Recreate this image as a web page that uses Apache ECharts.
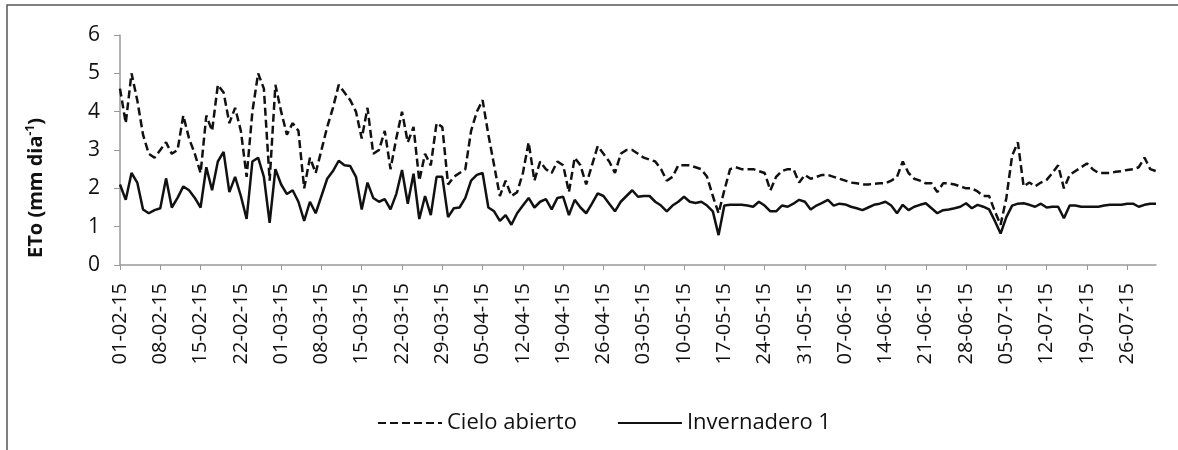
<!DOCTYPE html>
<html>
<head>
<meta charset="utf-8">
<script src="https://cdn.jsdelivr.net/npm/echarts@6/dist/echarts.min.js"></script>
<style>
  html, body { margin: 0; padding: 0; background: #fff; }
  #chart { width: 1178px; height: 450px; }
</style>
</head>
<body>
<div id="chart"></div>
<script>
// fechas diarias 01-02-15 .. 31-07-15
const startDay = new Date(2015, 1, 1)
const nDays = 181
const fechas = []
for (let i = 0; i < nDays; i++) {
  const d = new Date(startDay.getFullYear(), startDay.getMonth(), startDay.getDate() + i)
  const dd = String(d.getDate()).padStart(2, '0')
  const mm = String(d.getMonth() + 1).padStart(2, '0')
  fechas.push(dd + '-' + mm + '-15')
}

const yTicks = [0, 1, 2, 3, 4, 5, 6]

// ETo cielo abierto (mm dia-1)
const cieloAbierto = [
  4.6, 3.7, 5.0, 4.3, 3.4, 2.9, 2.8, 3.0, 3.2, 2.9,
  3.0, 3.9, 3.3, 2.9, 2.4, 3.9, 3.5, 4.7, 4.5, 3.7,
  4.1, 3.5, 2.3, 4.0, 5.0, 4.6, 2.2, 4.7, 4.0, 3.4,
  3.7, 3.5, 2.0, 2.8, 2.4, 3.0, 3.6, 4.1, 4.7, 4.5,
  4.3, 4.0, 3.3, 4.1, 2.9, 3.0, 3.5, 2.5, 3.3, 4.0,
  3.2, 3.6, 2.2, 2.9, 2.6, 3.7, 3.6, 2.1, 2.3, 2.4,
  2.5, 3.5, 4.0, 4.3, 3.4, 2.6, 1.8, 2.2, 1.8, 1.9,
  2.4, 3.2, 2.2, 2.7, 2.5, 2.4, 2.7, 2.6, 1.9, 2.8,
  2.6, 2.1, 2.6, 3.1, 2.9, 2.7, 2.4, 2.9, 3.0, 3.0,
  2.9, 2.8, 2.75, 2.7, 2.5, 2.2, 2.3, 2.6, 2.6, 2.6,
  2.55, 2.5, 2.3, 1.8, 1.35, 1.95, 2.5, 2.55, 2.5, 2.5,
  2.5, 2.45, 2.4, 1.95, 2.3, 2.45, 2.5, 2.5, 2.15, 2.35,
  2.25, 2.3, 2.35, 2.35, 2.3, 2.25, 2.2, 2.15, 2.13, 2.1,
  2.1, 2.12, 2.13, 2.13, 2.2, 2.3, 2.7, 2.4, 2.25, 2.2,
  2.13, 2.13, 1.9, 2.13, 2.13, 2.1, 2.05, 2.0, 2.0, 1.92,
  1.8, 1.8, 1.4, 1.05, 1.75, 2.85, 3.2, 2.05, 2.15, 2.05,
  2.15, 2.22, 2.4, 2.6, 2.0, 2.35, 2.45, 2.55, 2.65, 2.5,
  2.4, 2.4, 2.4, 2.43, 2.45, 2.48, 2.5, 2.55, 2.8, 2.5,
  2.45
]

// ETo invernadero 1 (mm dia-1)
const invernadero1 = [
  2.1, 1.7, 2.4, 2.15, 1.45, 1.35, 1.43, 1.48, 2.26, 1.5,
  1.75, 2.05, 1.95, 1.75, 1.5, 2.55, 1.95, 2.7, 2.95, 1.9,
  2.3, 1.8, 1.2, 2.7, 2.8, 2.3, 1.1, 2.5, 2.1, 1.85,
  1.95, 1.65, 1.15, 1.65, 1.35, 1.8, 2.25, 2.45, 2.72, 2.6,
  2.58, 2.3, 1.45, 2.15, 1.75, 1.65, 1.72, 1.45, 1.85, 2.48,
  1.6, 2.38, 1.2, 1.8, 1.3, 2.3, 2.3, 1.25, 1.48, 1.5,
  1.75, 2.2, 2.35, 2.4, 1.5, 1.4, 1.15, 1.3, 1.05, 1.35,
  1.55, 1.75, 1.5, 1.65, 1.72, 1.45, 1.75, 1.78, 1.3, 1.7,
  1.5, 1.35, 1.6, 1.87, 1.8, 1.6, 1.4, 1.65, 1.8, 1.95,
  1.78, 1.8, 1.8, 1.65, 1.55, 1.4, 1.55, 1.65, 1.78, 1.65,
  1.62, 1.65, 1.55, 1.4, 0.78, 1.55, 1.57, 1.57, 1.57, 1.55,
  1.52, 1.65, 1.55, 1.4, 1.4, 1.55, 1.52, 1.6, 1.7, 1.65,
  1.45, 1.55, 1.62, 1.7, 1.55, 1.6, 1.58, 1.52, 1.48, 1.43,
  1.5, 1.57, 1.6, 1.65, 1.55, 1.35, 1.57, 1.43, 1.52, 1.57,
  1.61, 1.48, 1.35, 1.43, 1.45, 1.48, 1.52, 1.61, 1.48, 1.57,
  1.52, 1.45, 1.15, 0.82, 1.25, 1.55, 1.6, 1.61, 1.57, 1.52,
  1.6, 1.5, 1.52, 1.52, 1.22, 1.55, 1.55, 1.52, 1.52, 1.52,
  1.52, 1.55, 1.57, 1.57, 1.57, 1.6, 1.6, 1.52, 1.57, 1.6,
  1.6
]

const fuente = 'Open Sans'
let myChart = echarts.init(document.getElementById('chart'), null, { renderer: 'canvas' })

let option = {
  animation: false,
  backgroundColor: '#fff',
  textStyle: { fontFamily: fuente },
  grid: { left: 120, right: 22, top: 35, bottom: 185 },
  graphic: [
    // marco del grafico
    {
      type: 'rect',
      shape: { x: 7, y: 5, width: 1180, height: 460 },
      style: { fill: 'none', stroke: '#555', lineWidth: 1.5 },
      silent: true
    },
    // titulo del eje y
    {
      type: 'text',
      x: 36,
      y: 188,
      rotation: Math.PI / 2,
      style: {
        text: '{b|ETo (mm dia}{s|-1}{b|)}',
        align: 'center',
        verticalAlign: 'middle',
        rich: {
          b: { fontFamily: fuente, fontSize: 20, fontWeight: 'bold', fill: '#111' },
          s: { fontFamily: fuente, fontSize: 12, fontWeight: 'bold', fill: '#111', padding: [0, 0, 10, 0] }
        }
      }
    }
  ],
  legend: {
    left: 372,
    top: 407,
    itemWidth: 64,
    itemHeight: 14,
    itemGap: 40,
    itemStyle: { opacity: 0 },
    textStyle: { fontFamily: fuente, fontSize: 22, color: '#111' },
    data: ['Cielo abierto', 'Invernadero 1']
  },
  xAxis: {
    type: 'category',
    data: fechas,
    boundaryGap: false,
    axisLine: { lineStyle: { color: '#999', width: 1.5 } },
    axisTick: { show: true, interval: 6, length: 5, lineStyle: { color: '#999' } },
    axisLabel: {
      interval: 6,
      rotate: 90,
      margin: 18,
      fontFamily: fuente,
      fontSize: 20,
      color: '#111'
    },
    splitLine: { show: false }
  },
  yAxis: {
    type: 'value',
    min: yTicks[0],
    max: yTicks[yTicks.length - 1],
    interval: 1,
    axisLine: { show: true, lineStyle: { color: '#999', width: 1.5 } },
    axisTick: { show: true, length: 6, lineStyle: { color: '#999' } },
    axisLabel: { margin: 20, fontFamily: fuente, fontSize: 21, color: '#111' },
    splitLine: { show: false }
  },
  series: [
    {
      name: 'Cielo abierto',
      type: 'line',
      data: cieloAbierto,
      symbol: 'none',
      color: '#111',
      lineStyle: { color: '#111', width: 2.5, type: [8, 4] }
    },
    {
      name: 'Invernadero 1',
      type: 'line',
      data: invernadero1,
      symbol: 'none',
      color: '#111',
      lineStyle: { color: '#111', width: 2.5 }
    }
  ]
}
myChart.setOption(option)
</script>
</body>
</html>
